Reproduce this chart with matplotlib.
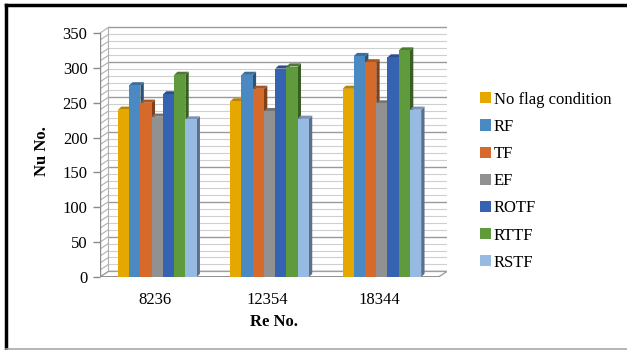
import numpy as np
import matplotlib
matplotlib.use("Agg")
from matplotlib import pyplot as plt
from matplotlib.patches import Polygon, Patch
from matplotlib.lines import Line2D

plt.rcParams['font.family'] = ['Liberation Serif', 'DejaVu Serif']

re_numbers = ['8236', '12354', '18344']
series = ['No flag condition', 'RF', 'TF', 'EF', 'ROTF', 'RTTF', 'RSTF']
nu_noflag = [240, 252, 270]
nu_rf = [275, 290, 317]
nu_tf = [250, 270, 308]
nu_ef = [230, 238, 249]
nu_rotf = [262, 299, 315]
nu_rttf = [290, 302, 325]
nu_rstf = [226, 227, 240]
values = [nu_noflag, nu_rf, nu_tf, nu_ef, nu_rotf, nu_rttf, nu_rstf]

colors = ['#E5A800', '#4A89C2', '#D56A2A', '#919191', '#3663B1', '#5F9B3D', '#97BAE2']


def shade(c, f):
    rgb = np.array(matplotlib.colors.to_rgb(c))
    return tuple(rgb * f)


fig = plt.figure(figsize=(6.27, 3.5), dpi=100)
W, H = 627, 350
# plot box in pixels
left, right, bottom = 100, 447, 73
ymax = 360
px_per_unit = 0.697
top = bottom + ymax * px_per_unit
ax = fig.add_axes([left / W, bottom / H, (right - left) / W, (top - bottom) / H])

xmin, xmax = -0.49, 2.6
ax.set_xlim(xmin, xmax)
ax.set_ylim(0, ymax)
for s in ax.spines.values():
    s.set_visible(False)

# back wall / side wall offsets
ox, oy = 0.075, 8
grid_vals = np.arange(0, 351, 10)
for v in grid_vals:
    major = v % 50 == 0
    c = '#9a9a9a' if major else '#cfcfcf'
    lw = 1.0 if major else 0.8
    ax.plot([xmin + ox, xmax], [v + oy, v + oy], color=c, lw=lw, zorder=1)
    ax.plot([xmin, xmin + ox], [v, v + oy], color='#b0b0b0', lw=0.8, zorder=1)
ax.plot([xmin + ox, xmin + ox], [oy, 350 + oy], color='#b0b0b0', lw=0.8, zorder=1)
ax.plot([xmin, xmin], [0, 350], color='#8a8a8a', lw=1.0, zorder=2)

# floor
floor = Polygon([(xmin, 0), (xmax - ox, 0), (xmax, oy), (xmin + ox, oy)],
                closed=True, facecolor='white', edgecolor='#a0a0a0', lw=1.0, zorder=2)
ax.add_patch(floor)
ax.plot([xmin - 0.06, xmax - ox], [0, 0], color='#8a8a8a', lw=1.2, zorder=3)

# 3d-looking bars
w = 0.1
dx, dy = 0.03, 4.5
z = 4
for g in range(len(re_numbers)):
    for i, (vals, c) in enumerate(zip(values, colors)):
        h = vals[g]
        x0 = g + (i - 3.5) * w + 0.02
        x1 = x0 + w
        side = Polygon([(x1, 0), (x1 + dx, dy), (x1 + dx, h + dy), (x1, h)],
                       closed=True, facecolor=shade(c, 0.6), edgecolor='none', zorder=z)
        topf = Polygon([(x0, h), (x1, h), (x1 + dx, h + dy), (x0 + dx, h + dy)],
                       closed=True, facecolor=shade(c, 0.8), edgecolor='none', zorder=z)
        ax.add_patch(side)
        ax.add_patch(topf)
        ax.bar(x0, h, width=w, align='edge', color=c, edgecolor='none', zorder=z)
        z += 1

ax.set_yticks(np.arange(0, 351, 50))
ax.set_xticks(range(len(re_numbers)))
ax.set_xticklabels(re_numbers)
ax.tick_params(axis='y', length=5, width=1, color='#8a8a8a', pad=4, labelsize=12)
ax.tick_params(axis='x', length=0, pad=11, labelsize=12)

ax.set_ylabel('Nu No.', fontsize=12, fontweight='bold', labelpad=9)
ax.set_xlabel('Re No.', fontsize=12, fontweight='bold', labelpad=4)

handles = [Patch(facecolor=c, edgecolor='none') for c in colors]
fig.legend(handles, series, loc='upper left', bbox_to_anchor=(473 / W, 1 - 85 / H),
           frameon=False, fontsize=12, handlelength=0.65, handleheight=0.65,
           handletextpad=0.2, labelspacing=0.67, borderaxespad=0)

# chart border
fig.add_artist(Line2D([6 / W, 6 / W], [1 / H, 1 - 5 / H], color='black', lw=2.5,
                      transform=fig.transFigure))
fig.add_artist(Line2D([6 / W, 1], [1 - 5 / H, 1 - 5 / H], color='black', lw=2.5,
                      transform=fig.transFigure))
fig.add_artist(Line2D([6 / W, 1], [1 / H, 1 / H], color='#a8a8a8', lw=1.2,
                      transform=fig.transFigure))

fig.savefig('out.png', dpi=100)
